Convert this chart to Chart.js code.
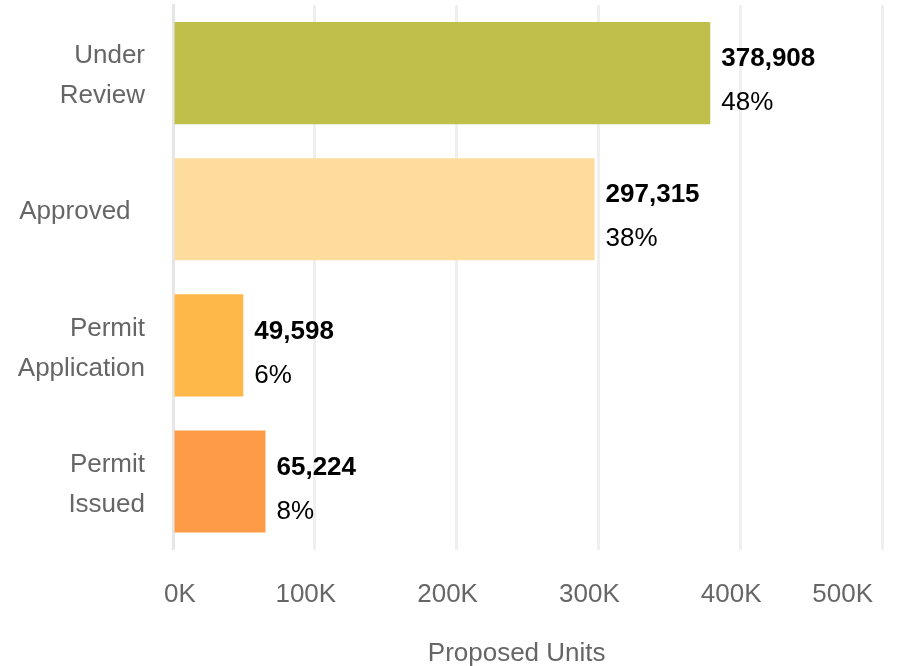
<!DOCTYPE html>
<html>
<head>
<meta charset="utf-8">
<script src="https://cdn.jsdelivr.net/npm/chart.js@4"></script>
<style>
  html, body { margin: 0; padding: 0; background: #fff; }
  #wrap { width: 904px; height: 666px; }
</style>
</head>
<body>
<div id="wrap"><canvas id="unitsChart" width="904" height="666"></canvas></div>
<script>
const categories = [['Under', 'Review'], 'Approved  ', ['Permit', 'Application'], ['Permit', 'Issued']];
const units = [378908, 297315, 49598, 65224];
const shares = ['48%', '38%', '6%', '8%'];
const barColors = ['#c0bf4a', '#fedc9d', '#feb849', '#fe9b47'];
const xTicks = [0, 100000, 200000, 300000, 400000, 500000];

const FONT = "'Liberation Sans', Arial, sans-serif";

// value + share labels to the right of each bar
const barLabels = {
    id: 'barLabels',
    afterDatasetsDraw(chart) {
        const ctx = chart.ctx;
        const meta = chart.getDatasetMeta(0);
        ctx.save();
        ctx.fillStyle = '#000';
        ctx.textAlign = 'left';
        ctx.textBaseline = 'middle';
        meta.data.forEach((bar, i) => {
            const x = bar.x + 11;
            ctx.font = 'bold 26px ' + FONT;
            ctx.fillText(units[i].toLocaleString('en-US'), x, bar.y - 14);
            ctx.font = '26px ' + FONT;
            ctx.fillText(shares[i], x, bar.y + 30);
        });
        ctx.restore();
    }
};

const ctx = document.getElementById('unitsChart').getContext('2d');
new Chart(ctx, {
    type: 'bar',
    data: {
        labels: categories,
        datasets: [{
            data: units,
            backgroundColor: barColors,
            borderWidth: 0,
            categoryPercentage: 1,
            barPercentage: 0.75
        }]
    },
    options: {
        indexAxis: 'y',
        animation: false,
        responsive: false,
        layout: { padding: { top: 5, right: 22, bottom: 0, left: 0 } },
        scales: {
            x: {
                min: 0,
                max: 500000,
                afterBuildTicks: s => { s.ticks = xTicks.map(v => ({ value: v })); },
                afterFit: s => { s.paddingLeft = 0; s.paddingRight = 0; },
                grid: {
                    drawTicks: false,
                    lineWidth: 3,
                    color: c => c.tick && c.tick.value === 0 ? 'rgba(0,0,0,0)' : '#efefef'
                },
                border: { display: false },
                ticks: {
                    padding: 30,
                    align: 'inner',
                    labelOffset: -9,
                    color: '#666',
                    font: { size: 26, family: FONT },
                    callback: v => (v / 1000) + 'K'
                },
                title: {
                    display: true,
                    text: 'Proposed Units   ',
                    color: '#666',
                    font: { size: 26, family: FONT },
                    padding: { top: -3, bottom: -3 }
                }
            },
            y: {
                afterFit: s => { s.width = 173; s.paddingTop = 0; s.paddingBottom = 0; },
                grid: { display: false, drawTicks: false },
                border: { display: true, color: '#e6e6e6', width: 3, dash: [5, 4] },
                ticks: {
                    padding: 28,
                    labelOffset: 3,
                    color: '#666',
                    font: { size: 26, family: FONT, lineHeight: 1.54 }
                }
            }
        },
        plugins: {
            legend: { display: false },
            tooltip: { enabled: false }
        }
    },
    plugins: [barLabels]
});
</script>
</body>
</html>
